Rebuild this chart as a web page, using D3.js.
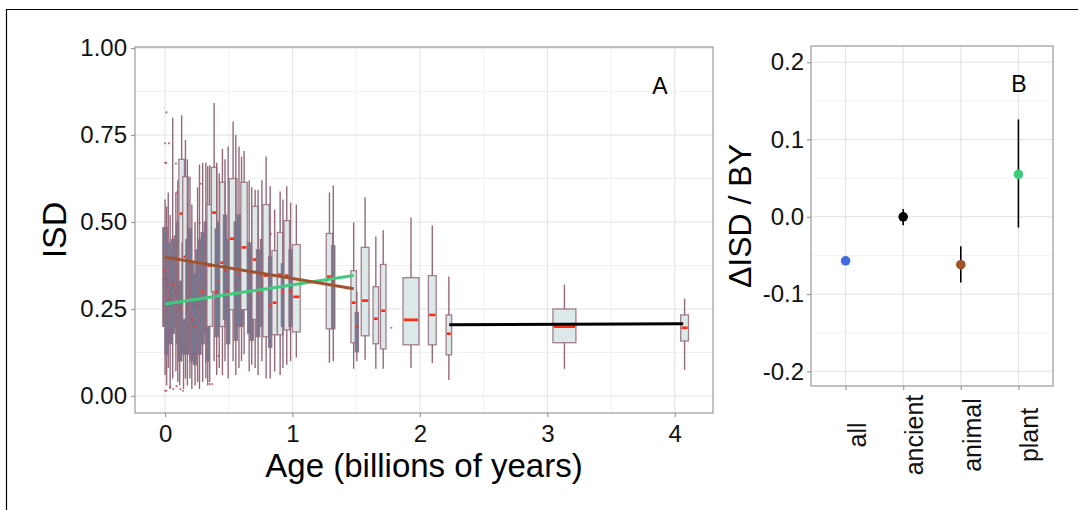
<!DOCTYPE html>
<html>
<head>
<meta charset="utf-8">
<script src="https://cdn.jsdelivr.net/npm/d3@7"></script>
<style>
  body { margin: 0; background: #fff; }
  svg { display: block; font-family: "Liberation Sans", Arial, sans-serif; }
</style>
</head>
<body>
<svg id="chart" width="1078" height="510"></svg>
<script>
// panel A: ISD box plots by age bin  [age, low whisker, q1, median, q3, high whisker, n]
const boxStats = [
    [0.000, 0.06, 0.20, 0.36, 0.484, 0.565, 2],
    [0.012, 0.03, 0.12, 0.30, 0.42, 0.545, 1],
    [0.025, 0.08, 0.22, 0.33, 0.44, 0.585, 1],
    [0.040, 0.02, 0.15, 0.28, 0.40, 0.52, 1],
    [0.060, 0.05, 0.18, 0.32, 0.45, 0.80, 1],
    [0.085, 0.07, 0.20, 0.30, 0.46, 0.585, 1],
    [0.100, 0.04, 0.15, 0.31, 0.50, 0.62, 1],
    [0.115, 0.03, 0.10, 0.25, 0.40, 0.56, 1],
    [0.130, 0.10, 0.33, 0.524, 0.68, 0.807, 3],
    [0.145, 0.02, 0.12, 0.27, 0.44, 0.63, 1],
    [0.160, 0.05, 0.22, 0.40, 0.63, 0.736, 3],
    [0.175, 0.03, 0.12, 0.25, 0.45, 0.68, 1],
    [0.195, 0.05, 0.14, 0.30, 0.48, 0.63, 1],
    [0.210, 0.02, 0.10, 0.22, 0.38, 0.55, 1],
    [0.235, 0.03, 0.09, 0.20, 0.35, 0.50, 1],
    [0.255, 0.04, 0.12, 0.26, 0.42, 0.60, 1],
    [0.270, 0.02, 0.12, 0.28, 0.45, 0.665, 1],
    [0.295, 0.04, 0.15, 0.30, 0.47, 0.67, 1],
    [0.320, 0.05, 0.18, 0.33, 0.50, 0.67, 1],
    [0.335, 0.03, 0.10, 0.22, 0.40, 0.66, 1],
    [0.350, 0.04, 0.20, 0.375, 0.55, 0.663, 3],
    [0.385, 0.10, 0.30, 0.527, 0.657, 0.842, 3],
    [0.405, 0.06, 0.17, 0.30, 0.48, 0.67, 1],
    [0.425, 0.08, 0.20, 0.33, 0.50, 0.64, 1],
    [0.450, 0.06, 0.20, 0.383, 0.614, 0.71, 3],
    [0.470, 0.10, 0.22, 0.36, 0.52, 0.68, 1],
    [0.495, 0.05, 0.15, 0.30, 0.45, 0.717, 1],
    [0.534, 0.10, 0.248, 0.452, 0.625, 0.789, 6],
    [0.555, 0.06, 0.16, 0.32, 0.50, 0.75, 1],
    [0.580, 0.08, 0.20, 0.35, 0.52, 0.717, 1],
    [0.600, 0.10, 0.20, 0.35, 0.50, 0.688, 1],
    [0.620, 0.12, 0.248, 0.427, 0.614, 0.704, 4],
    [0.660, 0.07, 0.18, 0.30, 0.44, 0.62, 1],
    [0.680, 0.09, 0.16, 0.28, 0.40, 0.60, 1],
    [0.707, 0.08, 0.22, 0.392, 0.545, 0.593, 4],
    [0.730, 0.06, 0.17, 0.30, 0.42, 0.593, 1],
    [0.760, 0.10, 0.20, 0.32, 0.45, 0.62, 1],
    [0.793, 0.05, 0.17, 0.346, 0.55, 0.688, 4],
    [0.825, 0.05, 0.14, 0.26, 0.40, 0.603, 1],
    [0.860, 0.07, 0.176, 0.268, 0.418, 0.536, 3],
    [0.903, 0.06, 0.176, 0.349, 0.47, 0.588, 3],
    [0.925, 0.08, 0.20, 0.30, 0.38, 0.565, 1],
    [0.955, 0.09, 0.19, 0.346, 0.504, 0.603, 3],
    [0.985, 0.10, 0.20, 0.30, 0.42, 0.556, 1],
    [1.030, 0.11, 0.184, 0.285, 0.435, 0.55, 6],
    [1.290, 0.095, 0.193, 0.343, 0.467, 0.585, 4],
    [1.320, 0.10, 0.193, 0.33, 0.432, 0.605, 1],
    [1.480, 0.078, 0.153, 0.268, 0.36, 0.499, 3],
    [1.505, 0.10, 0.127, 0.20, 0.24, 0.30, 1],
    [1.570, 0.104, 0.173, 0.274, 0.427, 0.571, 6],
    [1.654, 0.078, 0.15, 0.222, 0.314, 0.458, 3],
    [1.712, 0.078, 0.135, 0.245, 0.378, 0.476, 3],
    [1.930, 0.08, 0.147, 0.219, 0.34, 0.513, 25],
    [2.097, 0.095, 0.147, 0.233, 0.346, 0.49, 6],
    [2.227, 0.046, 0.118, 0.179, 0.233, 0.343, 3],
    [3.134, 0.078, 0.153, 0.199, 0.25, 0.32, 52],
    [4.077, 0.075, 0.158, 0.196, 0.233, 0.28, 6]
];

// outlying samples [age, ISD]
const outliers = [
    [0.010, 0.815], [0.000, 0.726], [0.030, 0.726], [0.000, 0.670], [0.008, 0.670],
    [0.085, 0.668], [0.090, 0.585], [0.280, 0.610], [0.270, 0.497], [0.830, 0.466],
    [0.000, 0.335], [0.000, 0.015], [0.010, 0.015], [0.040, 0.025], [0.065, 0.020],
    [0.090, 0.028], [0.120, 0.020], [0.140, 0.015], [0.350, 0.034], [0.370, 0.034],
    [0.420, 0.115], [0.050, 0.163], [1.775, 0.196], [0.230, 0.120]
];

// fitted trends [age, ISD]
const trendAnimal = [[0, 0.399], [1.48, 0.308]];
const trendPlant = [[0, 0.264], [1.48, 0.346]];
const trendAncient = [[2.23, 0.205], [4.066, 0.2075]];

const ageTicks = [0, 1, 2, 3, 4];
const ageMinor = [0.5, 1.5, 2.5, 3.5];
const isdTicks = [0, 0.25, 0.5, 0.75, 1];
const isdMinor = [0.125, 0.375, 0.625, 0.875];

// panel B: slope of ISD per billion years
const groups = ["all", "ancient", "animal", "plant"];
const slopeMean = [-0.057, 0.000, -0.062, 0.055];
const slopeLow = [-0.057, -0.011, -0.085, -0.014];
const slopeHigh = [-0.057, 0.010, -0.038, 0.126];
const slopeTicks = [-0.2, -0.1, 0, 0.1, 0.2];
const slopeMinor = [-0.15, -0.05, 0.05, 0.15];

const groupColor = d3.scaleOrdinal()
    .domain(groups)
    .range(["#4169e1", "#000000", "#a0522d", "#3fca7e"]);

const svg = d3.select("#chart");
const gridMajor = "#e2e2e2", gridMinor = "#f0f0f0", borderCol = "#9a9a9a";

// outer frame
svg.append("path")
    .attr("d", "M6.5,510V9.5H1078")
    .attr("fill", "none")
    .attr("stroke", "#000")
    .attr("stroke-width", 1.2);

// ---------- panel A ----------
const A = {left: 135, right: 713, top: 47, bottom: 413};
const x = d3.scaleLinear().domain([-0.236, 4.30]).range([A.left, A.right]);
const y = d3.scaleLinear().domain([-0.049, 1.003]).range([A.bottom, A.top]);
const boxWidth = d3.scaleSqrt().domain([0, 52]).range([0, 23]);

const gridA = svg.append("g");
gridA.append("g").selectAll("line").data(ageMinor).join("line")
    .attr("x1", d => x(d)).attr("x2", d => x(d))
    .attr("y1", A.top).attr("y2", A.bottom)
    .attr("stroke", gridMinor);
gridA.append("g").selectAll("line").data(isdMinor).join("line")
    .attr("x1", A.left).attr("x2", A.right)
    .attr("y1", d => y(d)).attr("y2", d => y(d))
    .attr("stroke", gridMinor);
gridA.append("g").selectAll("line").data(ageTicks).join("line")
    .attr("x1", d => x(d)).attr("x2", d => x(d))
    .attr("y1", A.top).attr("y2", A.bottom)
    .attr("stroke", gridMajor);
gridA.append("g").selectAll("line").data(isdTicks).join("line")
    .attr("x1", A.left).attr("x2", A.right)
    .attr("y1", d => y(d)).attr("y2", d => y(d))
    .attr("stroke", gridMajor);

const boxes = svg.append("g")
    .selectAll("g")
    .data(boxStats)
    .join("g");

const boxStroke = "#946a7b";
boxes.append("line")
    .attr("x1", d => x(d[0])).attr("x2", d => x(d[0]))
    .attr("y1", d => y(d[1])).attr("y2", d => y(d[2]))
    .attr("stroke", boxStroke).attr("stroke-width", 1.4);
boxes.append("line")
    .attr("x1", d => x(d[0])).attr("x2", d => x(d[0]))
    .attr("y1", d => y(d[4])).attr("y2", d => y(d[5]))
    .attr("stroke", boxStroke).attr("stroke-width", 1.4);
boxes.append("rect")
    .attr("x", d => x(d[0]) - boxWidth(d[6]) / 2)
    .attr("width", d => boxWidth(d[6]))
    .attr("y", d => y(d[4]))
    .attr("height", d => y(d[2]) - y(d[4]))
    .attr("fill", d => d[6] <= 2 ? "#6e7b94" : "#dde9e9")
    .attr("stroke", boxStroke)
    .attr("stroke-opacity", 0.85)
    .attr("stroke-width", 1.3);
boxes.append("line")
    .attr("x1", d => x(d[0]) - boxWidth(d[6]) / 2 + 0.8)
    .attr("x2", d => x(d[0]) + boxWidth(d[6]) / 2 - 0.8)
    .attr("y1", d => y(d[3])).attr("y2", d => y(d[3]))
    .attr("stroke", "#ff2a10").attr("stroke-width", 2.6);

svg.append("g").selectAll("circle")
    .data(outliers)
    .join("circle")
    .attr("cx", d => x(d[0]))
    .attr("cy", d => y(d[1]))
    .attr("r", 1.1)
    .attr("fill", "#b5485e")
    .attr("opacity", 0.8);

const line = d3.line().x(d => x(d[0])).y(d => y(d[1]));
[[trendPlant, "#3fca7e"], [trendAnimal, "#a0522d"], [trendAncient, "#000"]].forEach(function(t) {
    svg.append("path")
        .attr("d", line(t[0]))
        .attr("fill", "none")
        .attr("stroke", t[1])
        .attr("stroke-width", 3);
});

svg.append("rect")
    .attr("x", A.left).attr("y", A.top)
    .attr("width", A.right - A.left).attr("height", A.bottom - A.top)
    .attr("fill", "none").attr("stroke", borderCol).attr("stroke-width", 1.2);

const axXA = svg.append("g")
    .attr("transform", `translate(0,${A.bottom})`)
    .call(d3.axisBottom(x).tickValues(ageTicks).tickFormat(d3.format("d")).tickSize(4).tickPadding(8));
const axYA = svg.append("g")
    .attr("transform", `translate(${A.left},0)`)
    .call(d3.axisLeft(y).tickValues(isdTicks).tickFormat(d3.format(".2f")).tickSize(4).tickPadding(4));

svg.append("text")
    .attr("x", 660).attr("y", 86)
    .attr("text-anchor", "middle").attr("dominant-baseline", "central")
    .attr("font-size", 23).text("A");
svg.append("text")
    .attr("x", (A.left + A.right) / 2).attr("y", 477)
    .attr("text-anchor", "middle")
    .attr("font-size", 33).text("Age (billions of years)");
svg.append("text")
    .attr("transform", `translate(66,${(A.top + A.bottom) / 2}) rotate(-90)`)
    .attr("text-anchor", "middle")
    .attr("font-size", 34).text("ISD");

// ---------- panel B ----------
const B = {left: 811, right: 1053, top: 46, bottom: 386};
const xb = d3.scalePoint().domain(groups).range([B.left, B.right]).padding(0.6);
const yb = d3.scaleLinear().domain([-0.219, 0.221]).range([B.bottom, B.top]);

const gridB = svg.append("g");
gridB.append("g").selectAll("line").data(slopeMinor).join("line")
    .attr("x1", B.left).attr("x2", B.right)
    .attr("y1", d => yb(d)).attr("y2", d => yb(d))
    .attr("stroke", gridMinor);
gridB.append("g").selectAll("line").data(slopeTicks).join("line")
    .attr("x1", B.left).attr("x2", B.right)
    .attr("y1", d => yb(d)).attr("y2", d => yb(d))
    .attr("stroke", gridMajor);
gridB.append("g").selectAll("line").data(groups).join("line")
    .attr("x1", d => xb(d)).attr("x2", d => xb(d))
    .attr("y1", B.top).attr("y2", B.bottom)
    .attr("stroke", gridMajor);

const pts = svg.append("g")
    .selectAll("g")
    .data(groups)
    .join("g");
pts.append("line")
    .attr("x1", d => xb(d)).attr("x2", d => xb(d))
    .attr("y1", (d, i) => yb(slopeLow[i]))
    .attr("y2", (d, i) => yb(slopeHigh[i]))
    .attr("stroke", "#000").attr("stroke-width", 1.6);
pts.append("circle")
    .attr("cx", d => xb(d))
    .attr("cy", (d, i) => yb(slopeMean[i]))
    .attr("r", 4.8)
    .attr("fill", d => groupColor(d));

svg.append("rect")
    .attr("x", B.left).attr("y", B.top)
    .attr("width", B.right - B.left).attr("height", B.bottom - B.top)
    .attr("fill", "none").attr("stroke", borderCol).attr("stroke-width", 1.2);

// plain hyphen for negatives, as in the original figure
const fmtSlope = d => d3.format(".1f")(d).replace("\u2212", "-");
const axYB = svg.append("g")
    .attr("transform", `translate(${B.left},0)`)
    .call(d3.axisLeft(yb).tickValues(slopeTicks).tickFormat(fmtSlope).tickSize(4).tickPadding(3));
const axXB = svg.append("g")
    .attr("transform", `translate(0,${B.bottom})`)
    .call(d3.axisBottom(xb).tickSize(4).tickFormat(""));

svg.append("g").selectAll("text")
    .data(groups)
    .join("text")
    .attr("transform", d => `translate(${xb(d) + 11},435) rotate(-90)`)
    .attr("text-anchor", "middle")
    .attr("dominant-baseline", "central")
    .attr("font-size", 25)
    .attr("fill", "#111")
    .text(d => d);

svg.append("text")
    .attr("x", 1019).attr("y", 84)
    .attr("text-anchor", "middle").attr("dominant-baseline", "central")
    .attr("font-size", 23).text("B");
svg.append("text")
    .attr("transform", `translate(751,${(B.top + B.bottom) / 2}) rotate(-90)`)
    .attr("text-anchor", "middle")
    .attr("font-size", 32).text("\u0394ISD / BY");

// axis styling
[axXA, axYA, axYB, axXB].forEach(function(g) {
    g.attr("font-family", null).attr("font-size", 24);
    g.select(".domain").remove();
    g.selectAll(".tick line").attr("stroke", "#9a9a9a").attr("stroke-width", 1.2);
    g.selectAll(".tick text").attr("fill", "#111");
});
</script>
</body>
</html>
